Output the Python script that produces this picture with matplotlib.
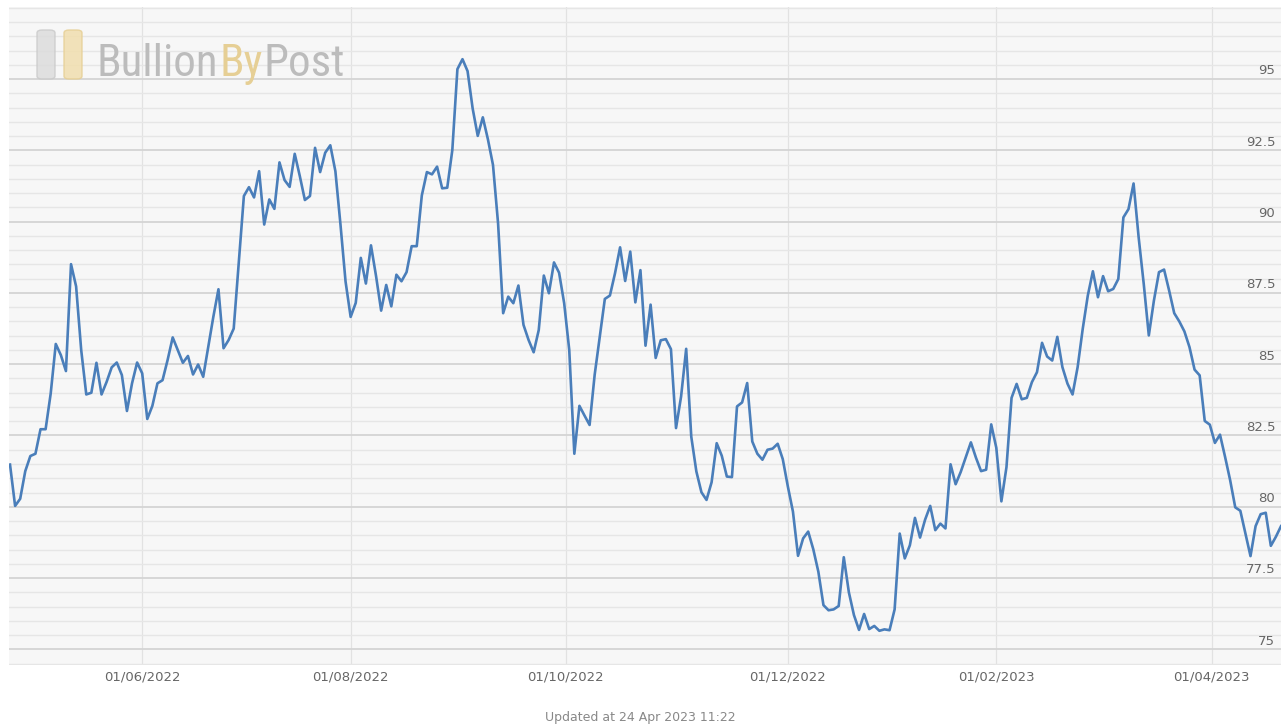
import numpy as np
import pandas as pd
import matplotlib
matplotlib.use("Agg")
import matplotlib.pyplot as plt
from matplotlib import font_manager
from matplotlib.patches import FancyBboxPatch
import matplotlib.transforms as mtransforms

# gold / silver ratio, one value per UK trading day (25 Apr 2022 - 24 Apr 2023)
uk_holidays = ["2022-05-02", "2022-06-02", "2022-06-03", "2022-08-29", "2022-09-19",
               "2022-12-26", "2022-12-27", "2023-01-02", "2023-04-07", "2023-04-10"]
dates = pd.bdate_range("2022-04-25", "2023-04-24", freq="C", holidays=uk_holidays)

ratio = [
    81.48, 80.03, 80.28, 81.25, 81.78, 81.86, 82.72, 82.72, 83.97, 85.71,
    85.32, 84.76, 88.51, 87.73, 85.50, 83.94, 84.00, 85.05, 83.94, 84.38,
    84.89, 85.06, 84.62, 83.36, 84.33, 85.06, 84.68, 83.08, 83.54, 84.33,
    84.44, 85.15, 85.94, 85.50, 85.05, 85.29, 84.64, 84.99, 84.56, 85.62,
    86.67, 87.63,
    85.56, 85.85, 86.25, 88.60, 90.90, 91.21, 90.85, 91.77, 89.90, 90.78,
    90.45, 92.08, 91.46, 91.22, 92.38, 91.60, 90.76, 90.90, 92.59, 91.74,
    92.42, 92.68, 91.77, 89.90, 87.90, 86.66, 87.15, 88.73, 87.83, 89.17,
    88.09, 86.88, 87.78, 87.03, 88.14, 87.91, 88.23, 89.14, 89.14, 90.92,
    91.74,
    91.66, 91.93, 91.17, 91.19, 92.51, 95.35, 95.70, 95.28, 93.97, 93.01,
    93.66, 92.89, 91.99, 89.94, 86.79, 87.37, 87.14, 87.76, 86.38, 85.85,
    85.42, 86.20, 88.11, 87.49, 88.57, 88.21, 87.14, 85.50, 81.86, 83.54,
    83.20, 82.87, 84.63, 85.97, 87.29, 87.41, 88.19, 89.10, 87.92, 88.95,
    87.17, 88.30,
    85.65, 87.09, 85.22, 85.84, 85.88, 85.53, 82.76, 83.87, 85.54, 82.46,
    81.24, 80.51, 80.24, 80.86, 82.23, 81.79, 81.06, 81.04, 83.52, 83.66,
    84.34, 82.29, 81.86, 81.65, 82.00, 82.04, 82.21, 81.67, 80.71, 79.83,
    78.28, 78.89, 79.13, 78.51, 77.72, 76.55, 76.37, 76.40, 76.52, 78.23,
    77.00,
    76.20, 75.68, 76.24, 75.71, 75.82, 75.65, 75.70, 75.67, 76.40, 79.06,
    78.19, 78.65, 79.61, 78.92, 79.55, 80.03, 79.18, 79.41, 79.24, 81.49,
    80.79, 81.22, 81.74, 82.26, 81.72, 81.25, 81.30, 82.89, 82.07, 80.19,
    81.39, 83.82, 84.31, 83.77, 83.82, 84.37, 84.72, 85.75, 85.27, 85.13,
    85.96,
    84.90, 84.32, 83.94, 84.90, 86.24, 87.41, 88.26, 87.35, 88.09, 87.56,
    87.64, 87.99, 90.15, 90.44, 91.34, 89.45, 87.82, 86.01, 87.23, 88.23,
    88.32, 87.58, 86.79, 86.50, 86.15, 85.60, 84.81, 84.61, 83.01, 82.88,
    82.24, 82.53, 81.75, 80.93, 79.98, 79.86, 79.07, 78.27, 79.32, 79.74,
    79.79, 78.63, 78.95, 79.32,
]

tick_dates = ["2022-06-01", "2022-08-01", "2022-10-01", "2022-12-01", "2023-02-01", "2023-04-01"]
tick_labels = ["01/06/2022", "01/08/2022", "01/10/2022", "01/12/2022", "01/02/2023", "01/04/2023"]
y_ticks = [75, 77.5, 80, 82.5, 85, 87.5, 90, 92.5, 95]
y_labels = ["75", "77.5", "80", "82.5", "85", "87.5", "90", "92.5", "95"]
updated_text = "Updated at 24 Apr 2023 11:22"
logo_parts = ["Bullion", "By", "Post"]
logo_colors = ["#bcbcbc", "#e6cf95", "#bcbcbc"]

W, H = 1281, 725
fig = plt.figure(figsize=(W / 100, H / 100), dpi=100)
fig.patch.set_facecolor("white")

ax = fig.add_axes([9 / W, 60 / H, (W - 9) / W, 658 / H])
ax.set_facecolor("#f7f7f7")
for s in ax.spines.values():
    s.set_visible(False)

# ordinal x axis: one slot per trading day, month ticks interpolated between days
x = np.arange(len(ratio))
day_num = dates.values.astype("datetime64[D]").astype(float)
tick_num = np.array(tick_dates, dtype="datetime64[D]").astype(float)
tick_pos = np.interp(tick_num, day_num, x)

ax.set_xlim(-0.2, len(ratio) - 1)
ax.set_ylim(74.45, 97.53)

ax.set_yticks(np.arange(74.5, 97.6, 0.5), minor=True)
ax.set_yticks(y_ticks)
ax.set_yticklabels([])
ax.grid(which="minor", axis="y", color="#e6e6e6", lw=1.0, zorder=0)
ax.grid(which="major", axis="y", color="#d4d4d4", lw=1.3, zorder=0)

ax.set_xticks(tick_pos)
ax.set_xticklabels(tick_labels, color="#666666", fontsize=9.5)
ax.grid(which="major", axis="x", color="#e2e2e2", lw=0.9, zorder=0)
ax.tick_params(axis="both", which="both", length=0)
ax.tick_params(axis="x", pad=4)

ax.plot(x, ratio, color="#4a7eba", lw=1.9, solid_joinstyle="round", zorder=3)

trans = mtransforms.blended_transform_factory(ax.transAxes, ax.transData)
for v, lab in zip(y_ticks, y_labels):
    ax.text(0.9955, v + 0.06, lab, transform=trans, ha="right", va="bottom",
            color="#666666", fontsize=9.5, zorder=4)

fig.text(0.5, 1 - 718 / H, updated_text, ha="center", va="center",
         color="#888888", fontsize=9)

# watermark logo
def fx(px):
    return px / W

def fy(py):
    return 1 - py / H

fig.patches.append(FancyBboxPatch((fx(37), fy(79)), fx(18), 49 / H,
                                  boxstyle="round,pad=0,rounding_size=0.004",
                                  transform=fig.transFigure, fc="#dcdcdc", ec="#cacaca",
                                  lw=1, alpha=0.85, zorder=5))
fig.patches.append(FancyBboxPatch((fx(64), fy(79)), fx(18), 49 / H,
                                  boxstyle="round,pad=0,rounding_size=0.004",
                                  transform=fig.transFigure, fc="#f1deae", ec="#e6cf95",
                                  lw=1, alpha=0.85, zorder=5))

avail = {f.name for f in font_manager.fontManager.ttflist}
logo_font = "DejaVu Sans"
for name in ["Liberation Sans Narrow", "DejaVu Sans Condensed", "Roboto Condensed"]:
    if name in avail:
        logo_font = name
        break

renderer = fig.canvas.get_renderer()
logo_size = 30
texts = [fig.text(0, 0, p, fontsize=logo_size, family=logo_font, color=c, zorder=6)
         for p, c in zip(logo_parts, logo_colors)]
widths = [t.get_window_extent(renderer).width for t in texts]
scale = (343 - 97) / sum(widths)
cursor = 97
for t in texts:
    t.set_fontsize(logo_size * scale)
    t.set_position((fx(cursor), fy(76)))
    t.set_va("baseline")
    cursor += t.get_window_extent(renderer).width + 1

fig.savefig("out.png", dpi=100)
